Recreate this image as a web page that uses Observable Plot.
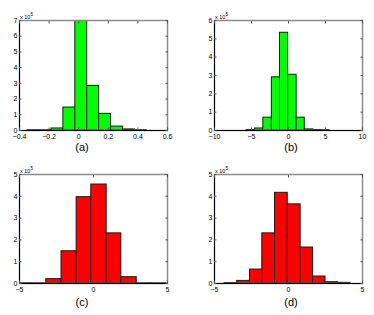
<!DOCTYPE html>
<html><head><meta charset="utf-8">
<script src="https://cdn.jsdelivr.net/npm/d3@7"></script>
<script src="https://cdn.jsdelivr.net/npm/@observablehq/plot@0.6"></script>
<style>
body{margin:0;background:#fff;font-family:"Liberation Sans",Arial,sans-serif;}
#wrap{position:relative;width:374px;height:315px;}
.p{position:absolute;}
.cap{position:absolute;font-size:11px;transform:translate(-50%,-50%);color:#000;}
.exp{position:absolute;font-size:5.5px;color:#000;}
.exp sup{font-size:4.5px;}
</style></head><body><div id="wrap"></div>
<script>
// Panel (a)
const edgesA = [-0.345,-0.2645,-0.184,-0.1035,-0.023,0.0575,0.138,0.2185,0.299,0.3795,0.46];
const countsA = [0.02,0.02,0.13,1.46,7.0,2.84,1.06,0.25,0.07,0.02];
const xTicksA = [-0.4,-0.2,0,0.2,0.4,0.6];
// Panel (b)
const edgesB = [-5.65,-4.5,-3.4,-2.25,-1.15,-0.05,1.1,2.2,3.35,4.45,5.55];
const countsB = [0.03,0.11,0.7,2.9,5.33,3.04,0.7,0.06,0.03,0.02];
const xTicksB = [-10,-5,0,5,10];
// Panel (c)
const edgesC = [-5.0,-4.2,-3.19,-2.16,-1.14,-0.15,0.89,1.88,2.92,3.94,4.95];
const countsC = [0.01,0.01,0.2,1.48,3.96,4.54,2.3,0.29,0.01,0.01];
const xTicksC = [-5,0,5];
// Panel (d)
const edgesD = [-4.32,-3.47,-2.6,-1.77,-0.91,-0.05,0.82,1.66,2.5,3.35,4.19];
const countsD = [0.02,0.12,0.64,2.3,4.16,3.63,1.65,0.32,0.06,0.03];
const xTicksD = [-5,0,5];
const captions = ["(a)","(b)","(c)","(d)"];

const wrap = document.getElementById("wrap");

function panel(o){
  const data = o.counts.map((c,i)=>({x1:o.edges[i], x2:o.edges[i+1], y:c}));
  const yTicks = d3.range(0, o.yMax+1);
  const xd = [o.xTicks[0], o.xTicks[o.xTicks.length-1]];
  const svg = Plot.plot({
    width:187, height:145,
    marginLeft:o.ml, marginRight:o.mr, marginTop:o.mt, marginBottom:o.mb,
    style:{fontFamily:"Liberation Sans, Arial, sans-serif", fontSize:"7px", background:"transparent", overflow:"visible"},
    x:{domain:xd},
    y:{domain:[0,o.yMax]},
    marks:[
      Plot.rectY(data,{x1:"x1",x2:"x2",y:"y",fill:o.fill,stroke:"#1a1a1a",strokeWidth:1,clip:true}),
      Plot.frame({stroke:"#8c8c8c",strokeWidth:1.5}),
      Plot.ruleY([0],{stroke:"#000"}),
      Plot.ruleX([xd[0]],{stroke:"#000"}),
      Plot.axisX({ticks:o.xTicks,tickSize:-2.5,tickPadding:6,fontSize:7,label:null,stroke:"#555",tickFormat:d3.format("~g")}),
      Plot.axisX({anchor:"top",ticks:o.xTicks,tickSize:-2.5,tickFormat:()=>"",label:null,stroke:"#555"}),
      Plot.axisY({ticks:yTicks,tickSize:-2.5,tickPadding:4.5,fontSize:7,label:null,stroke:"#555",tickFormat:d3.format("d")}),
      Plot.axisY({anchor:"right",ticks:yTicks,tickSize:-2.5,tickFormat:()=>"",label:null,stroke:"#555"})
    ]
  });
  svg.classList.add("p");
  svg.style.left=o.left+"px"; svg.style.top=o.top+"px";
  wrap.appendChild(svg);
  const e=document.createElement("div");
  e.className="exp"; e.innerHTML="x 10<sup>5</sup>";
  e.style.left=(o.left+o.ml+1)+"px"; e.style.top=(o.top+o.mt-8)+"px";
  wrap.appendChild(e);
  const c=document.createElement("div");
  c.className="cap"; c.textContent=o.cap;
  c.style.left=o.cx+"px"; c.style.top=o.cy+"px";
  wrap.appendChild(c);
}

panel({edges:edgesA,counts:countsA,xTicks:xTicksA,yMax:7,fill:"#00ff00",left:0,top:0,ml:19,mr:20,mt:20,mb:15,cap:captions[0],cx:82,cy:147});
panel({edges:edgesB,counts:countsB,xTicks:xTicksB,yMax:6,fill:"#00ff00",left:187,top:0,ml:27,mr:12,mt:20,mb:15,cap:captions[1],cx:291,cy:147});
panel({edges:edgesC,counts:countsC,xTicks:xTicksC,yMax:5,fill:"#ff0000",left:0,top:155,ml:19,mr:20,mt:19,mb:17,cap:captions[2],cx:82,cy:302});
panel({edges:edgesD,counts:countsD,xTicks:xTicksD,yMax:5,fill:"#ff0000",left:187,top:155,ml:27,mr:12,mt:19,mb:17,cap:captions[3],cx:291,cy:302});
</script></body></html>
